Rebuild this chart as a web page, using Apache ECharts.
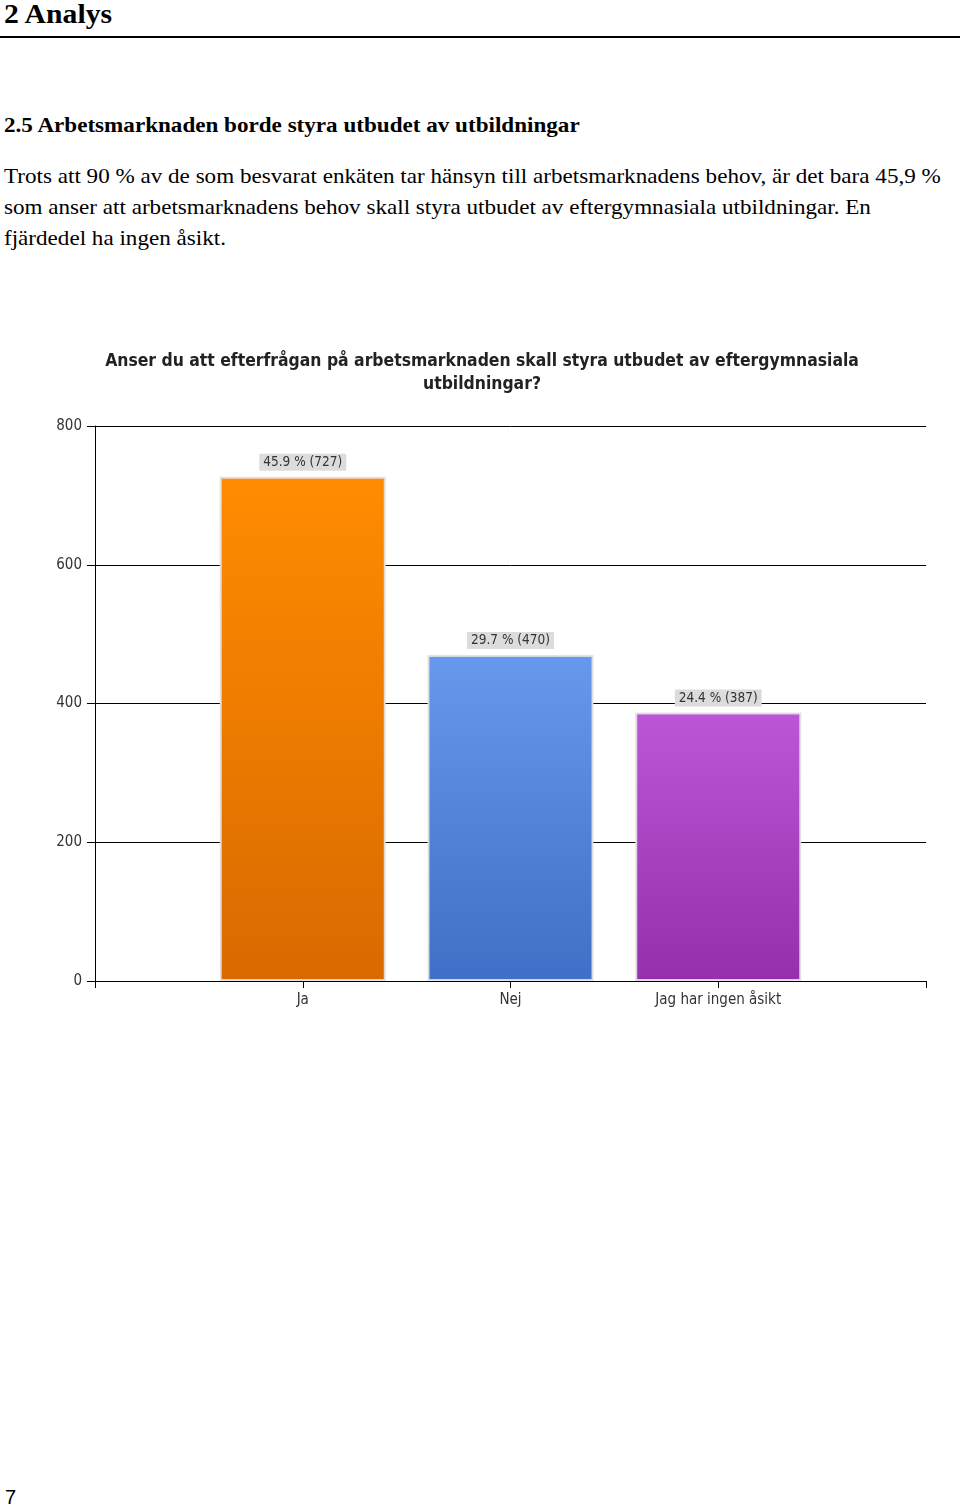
<!DOCTYPE html>
<html><head><meta charset="utf-8">
<script src="https://cdn.jsdelivr.net/npm/echarts@6/dist/echarts.min.js"></script>
<style>
html,body{margin:0;padding:0;background:#fff;width:960px;height:1509px;overflow:hidden;position:relative;font-family:"Liberation Serif","Times New Roman",serif;color:#000}
.t{position:absolute;white-space:nowrap;transform-origin:0 0}
#h1{left:4px;top:-2px;font-size:28px;font-weight:bold;transform:scaleX(1.06)}
#rule{position:absolute;left:0;top:36px;width:960px;height:2px;background:#000}
#h2{left:4px;top:113px;font-size:21px;font-weight:bold;transform:scaleX(1.10)}
#p{left:4px;top:161px;font-size:21px;line-height:31px;transform:scaleX(1.10)}
#pg{left:5px;top:1486px;font-size:20px;font-family:"Liberation Sans",Arial,sans-serif}
#chart{position:absolute;left:0;top:330px;width:960px;height:700px}
</style></head><body>
<div class="t" id="h1">2 Analys</div>
<div id="rule"></div>
<div class="t" id="h2">2.5 Arbetsmarknaden borde styra utbudet av utbildningar</div>
<div class="t" id="p">Trots att 90 % av de som besvarat enkäten tar hänsyn till arbetsmarknadens behov, är det bara 45,9 %<br>som anser att arbetsmarknadens behov skall styra utbudet av eftergymnasiala utbildningar. En<br>fjärdedel ha ingen åsikt.</div>
<div class="t" id="pg">7</div>
<div id="chart"></div>
<script>
const categories = ['Ja', 'Nej', 'Jag har ingen åsikt'];
const counts = [727, 470, 387];
const percents = [45.9, 29.7, 24.4];
const yTicks = [0, 200, 400, 600, 800];
const chartTitle = 'Anser du att efterfrågan på arbetsmarknaden skall styra utbudet av eftergymnasiala\nutbildningar?';

const colors = [
  ['#FF8C00', '#D96A00'],
  ['#6698EC', '#3F6FC6'],
  ['#BC56D6', '#9430AB']
];
const FONT = '"DejaVu Sans Condensed", "Liberation Sans Narrow", "Liberation Sans", Arial, sans-serif';
const axisCats = [''].concat(categories, ['']);
const barData = [{value: null}].concat(counts.map((v, i) => ({
  value: v,
  itemStyle: {
    color: new echarts.graphic.LinearGradient(0, 0, 0, 1, [
      {offset: 0, color: colors[i][0]}, {offset: 1, color: colors[i][1]}
    ])
  },
  label: {formatter: percents[i].toFixed(1) + ' % (' + v + ')'}
}))).concat([{value: null}]);

const chart = echarts.init(document.getElementById('chart'), null, {renderer: 'canvas'});
chart.setOption({
  animation: false,
  title: {
    text: chartTitle, left: 477, top: 15, textAlign: 'center',
    textStyle: {fontFamily: FONT, fontSize: 17.4, fontWeight: 'bold', color: '#222', lineHeight: 23}
  },
  grid: {left: 95, right: 34, top: 96, bottom: 49},
  xAxis: {
    type: 'category', data: axisCats, boundaryGap: false,
    axisLine: {lineStyle: {color: '#000', width: 1}},
    axisTick: {length: 7, lineStyle: {color: '#000'}, alignWithLabel: true},
    axisLabel: {fontFamily: FONT, fontSize: 15, color: '#333', margin: 12, interval: 0},
    splitLine: {show: false}
  },
  yAxis: {
    type: 'value', min: yTicks[0], max: yTicks[yTicks.length - 1], interval: 200,
    axisLine: {show: true, lineStyle: {color: '#000'}},
    axisTick: {show: true, length: 8, lineStyle: {color: '#000'}},
    axisLabel: {fontFamily: FONT, fontSize: 15, color: '#333', margin: 13},
    splitLine: {lineStyle: {color: '#000', width: 1}}
  },
  series: [{
    type: 'bar', data: barData, barWidth: 166,
    itemStyle: {borderColor: 'rgba(225,225,225,0.9)', borderWidth: 2},
    label: {
      show: true, position: 'top', distance: 6,
      fontFamily: FONT, fontSize: 13.5, color: '#333',
      backgroundColor: '#dcdcdc', padding: [2, 4, 1, 4]
    }
  }]
});
</script>
</body></html>
